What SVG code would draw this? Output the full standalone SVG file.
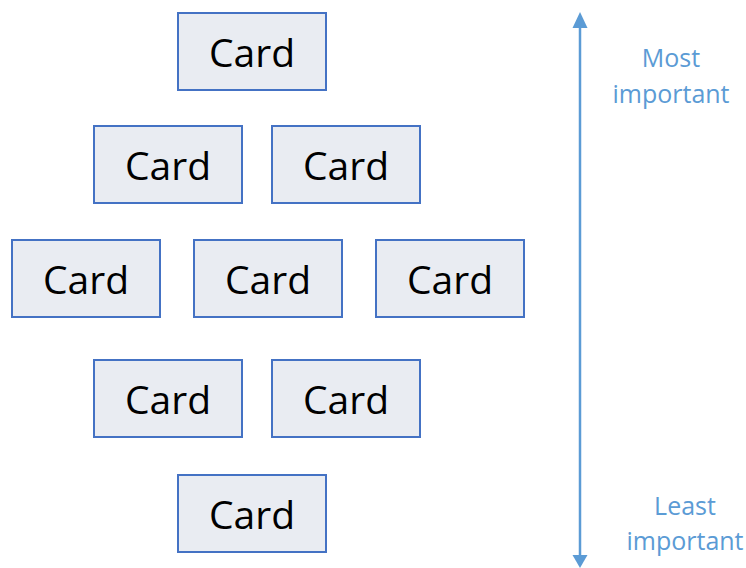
<svg xmlns="http://www.w3.org/2000/svg" width="746" height="568" viewBox="0 0 746 568">
<defs>
<style>
.card rect{fill:#e9ecf2;stroke:#4472c4;stroke-width:2}
.card text{font-family:"Open Sans","Liberation Sans",sans-serif;font-size:39px;fill:#000;text-anchor:middle}
.lbl{font-family:"Open Sans","Liberation Sans",sans-serif;font-size:25px;fill:#5b9bd5;text-anchor:middle}
</style>
</defs>
<rect width="746" height="568" fill="#fff"/>
<g id="card1" class="card"><rect x="178" y="13" width="148" height="77"/><text x="252" y="67">Card</text></g>
<g id="card2" class="card"><rect x="94" y="126" width="148" height="77"/><text x="168" y="180">Card</text></g>
<g id="card3" class="card"><rect x="272" y="126" width="148" height="77"/><text x="346" y="180">Card</text></g>
<g id="card4" class="card"><rect x="12" y="240" width="148" height="77"/><text x="86" y="294">Card</text></g>
<g id="card5" class="card"><rect x="194" y="240" width="148" height="77"/><text x="268" y="294">Card</text></g>
<g id="card6" class="card"><rect x="376" y="240" width="148" height="77"/><text x="450" y="294">Card</text></g>
<g id="card7" class="card"><rect x="94" y="360" width="148" height="77"/><text x="168" y="414">Card</text></g>
<g id="card8" class="card"><rect x="272" y="360" width="148" height="77"/><text x="346" y="414">Card</text></g>
<g id="card9" class="card"><rect x="178" y="475" width="148" height="77"/><text x="252" y="529">Card</text></g>
<g id="connectors">
<line x1="580" y1="26" x2="580" y2="556" stroke="#5b9bd5" stroke-width="2.5"/>
<polygon points="580,12 572.5,28 587.5,28" fill="#5b9bd5"/>
<polygon points="580,568 572.5,555 587.5,555" fill="#5b9bd5"/>
</g>
<g id="labels">
<text class="lbl" x="671" y="67">Most</text>
<text class="lbl" x="671" y="103">important</text>
<text class="lbl" x="685" y="515">Least</text>
<text class="lbl" x="685" y="550">important</text>
</g>
</svg>
